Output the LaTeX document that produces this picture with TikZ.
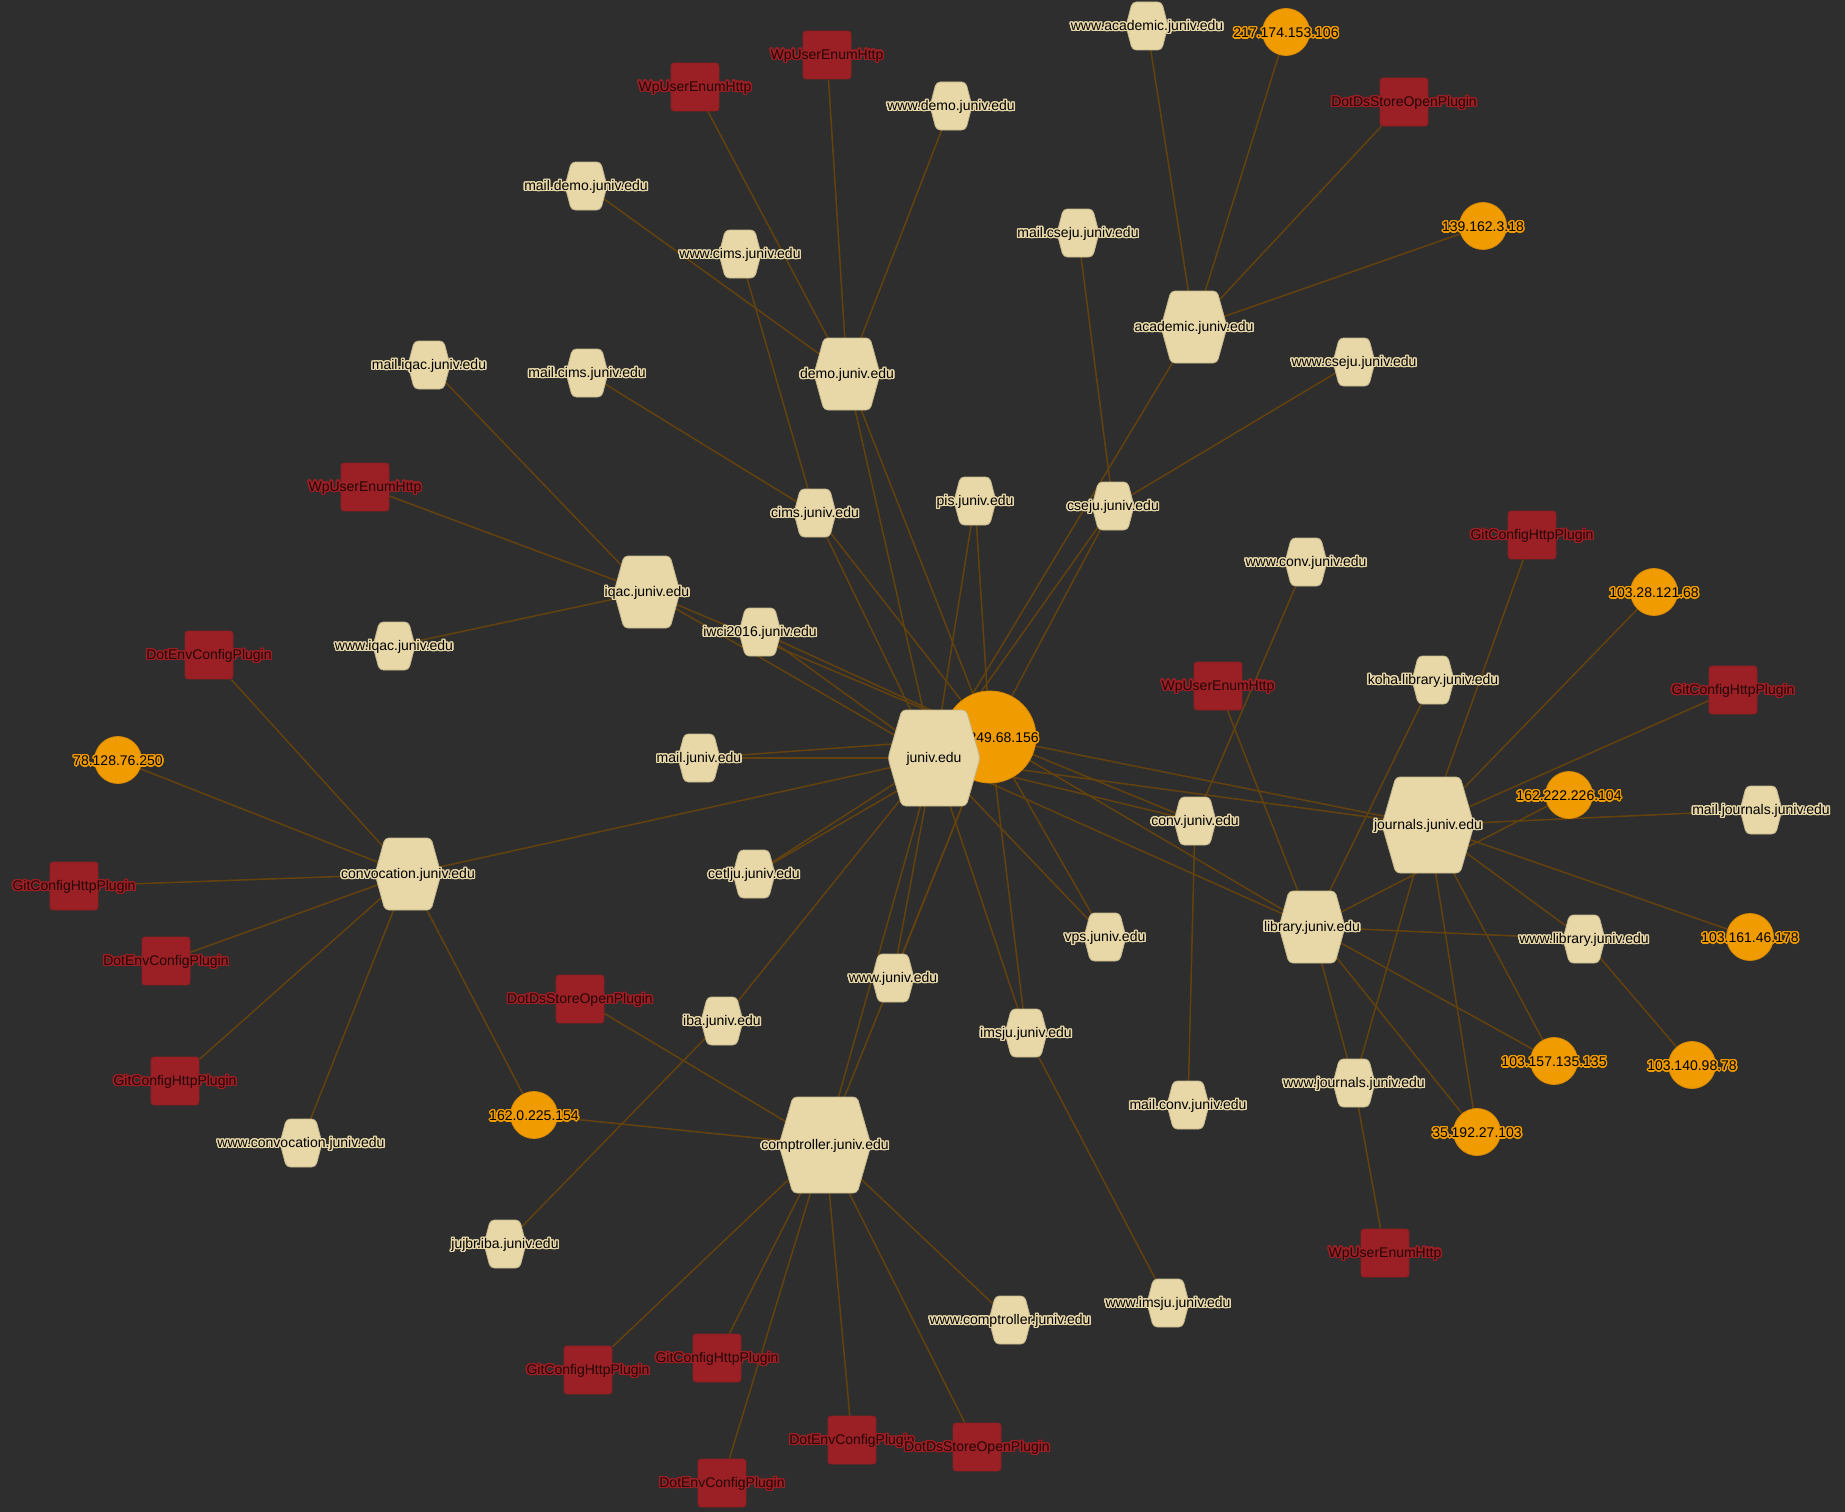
\documentclass[tikz,border=0pt]{standalone}
\usepackage{fontspec}
\setmainfont{Liberation Sans}
\usepackage{contour}
\contourlength{1.4pt}
\contournumber{24}
\usetikzlibrary{calc}
\pgfdeclarelayer{bglayer}
\pgfdeclarelayer{edgelayer}
\pgfsetlayers{bglayer,edgelayer,main}
\definecolor{bgdark}{RGB}{46,46,46}
\definecolor{hexfill}{RGB}{232,216,168}
\definecolor{hexline}{RGB}{196,182,140}
\definecolor{ipfill}{RGB}{240,156,0}
\definecolor{ipline}{RGB}{214,138,6}
\definecolor{plugfill}{RGB}{155,32,37}
\definecolor{plugline}{RGB}{140,30,34}
\definecolor{plugtext}{RGB}{38,6,6}
\definecolor{edgecol}{RGB}{100,66,14}
\tikzset{
  hexshape/.style={fill=hexfill,draw=hexline,line width=0.8pt,rounded corners=4pt},
  ipshape/.style={circle,fill=ipfill,draw=ipline,line width=0.8pt,inner sep=0pt},
  plugshape/.style={rectangle,fill=plugfill,draw=plugline,line width=0.8pt,rounded corners=3pt,inner sep=0pt,minimum size=48pt},
  hostlabel/.style={inner sep=0pt,yshift=-1.5pt,text=black,font=\fontsize{14}{16}\selectfont},
  iplabel/.style={inner sep=0pt,yshift=-1.5pt,text=black,font=\fontsize{14}{16}\selectfont},
  pluglabel/.style={inner sep=0pt,yshift=-1.5pt,text=plugtext,font=\fontsize{14}{16}\selectfont},
  link/.style={draw=edgecol,line width=1.5pt}
}
\newcommand{\hexnode}[5]{%
  \coordinate (#1) at (#2);
  \path[hexshape] ($(#1)+(-#3,0)$) -- ($(#1)+(-0.7*#3,-#4)$) -- ($(#1)+(0.7*#3,-#4)$)
    -- ($(#1)+(#3,0)$) -- ($(#1)+(0.7*#3,#4)$) -- ($(#1)+(-0.7*#3,#4)$) -- cycle;
  \node[hostlabel] (#1t) at (#1) {\contour{hexfill}{#5}};}
\newcommand{\ipnode}[4]{%
  \node[ipshape,minimum size=#3] (#1) at (#2) {};
  \node[iplabel] (#1t) at (#1) {\contour{ipfill}{#4}};}
\newcommand{\plugnode}[3]{%
  \node[plugshape] (#1) at (#2) {};
  \node[pluglabel] (#1t) at (#1) {\contour{plugfill}{#3}};}
\begin{document}
\begin{tikzpicture}[x=1pt,y=-1pt]
\useasboundingbox (0,0) rectangle (1845,1512);
\begin{pgfonlayer}{bglayer}
\fill[bgdark] (0,0) rectangle (1845,1512);
\end{pgfonlayer}

\ipnode{ipbig}{990,737}{92pt}{103.249.68.156}
\ipnode{ipacada}{1286,32}{47pt}{217.174.153.106}
\ipnode{ipacadb}{1483,226}{47pt}{139.162.3.18}
\ipnode{ipjoura}{1654,592}{47pt}{103.28.121.68}
\ipnode{iplib}{1569,795}{47pt}{162.222.226.104}
\ipnode{ipconv}{118,760}{47pt}{78.128.76.250}
\ipnode{ipjourb}{1750,937}{47pt}{103.161.46.178}
\ipnode{ipjourc}{1554,1061}{47pt}{103.157.135.135}
\ipnode{ipwlib}{1692,1065}{47pt}{103.140.98.78}
\ipnode{ipjourd}{1477,1132}{47pt}{35.192.27.103}
\ipnode{ipcomp}{534,1115}{47pt}{162.0.225.154}

\plugnode{wpdemoa}{827,55}{WpUserEnumHttp}
\plugnode{wpdemob}{695,87}{WpUserEnumHttp}
\plugnode{dsacad}{1404,102}{DotDsStoreOpenPlugin}
\plugnode{wpiqac}{365,487}{WpUserEnumHttp}
\plugnode{gitjoura}{1532,535}{GitConfigHttpPlugin}
\plugnode{envconva}{209,655}{DotEnvConfigPlugin}
\plugnode{wplib}{1218,686}{WpUserEnumHttp}
\plugnode{gitjourb}{1733,690}{GitConfigHttpPlugin}
\plugnode{gitconva}{74,886}{GitConfigHttpPlugin}
\plugnode{envconvb}{166,961}{DotEnvConfigPlugin}
\plugnode{dscompa}{580,999}{DotDsStoreOpenPlugin}
\plugnode{gitconvb}{175,1081}{GitConfigHttpPlugin}
\plugnode{wpjour}{1385,1253}{WpUserEnumHttp}
\plugnode{gitcompa}{588,1370}{GitConfigHttpPlugin}
\plugnode{gitcompb}{717,1358}{GitConfigHttpPlugin}
\plugnode{envcompa}{852,1440}{DotEnvConfigPlugin}
\plugnode{dscompb}{977,1447}{DotDsStoreOpenPlugin}
\plugnode{envcompb}{722,1483}{DotEnvConfigPlugin}

\hexnode{wwwacad}{1147,26}{21}{24}{www.academic.juniv.edu}
\hexnode{wwwdemo}{951,106}{21}{24}{www.demo.juniv.edu}
\hexnode{maildemo}{586,186}{21}{24}{mail.demo.juniv.edu}
\hexnode{wwwcims}{740,254}{21}{24}{www.cims.juniv.edu}
\hexnode{mailcseju}{1078,233}{21}{24}{mail.cseju.juniv.edu}
\hexnode{acad}{1194,327}{33}{36}{academic.juniv.edu}
\hexnode{wwwcseju}{1354,362}{21}{24}{www.cseju.juniv.edu}
\hexnode{mailiqac}{429,365}{21}{24}{mail.iqac.juniv.edu}
\hexnode{mailcims}{587,373}{21}{24}{mail.cims.juniv.edu}
\hexnode{demo}{847,374}{33}{36}{demo.juniv.edu}
\hexnode{pis}{975,501}{21}{24}{pis.juniv.edu}
\hexnode{cseju}{1113,506}{21}{24}{cseju.juniv.edu}
\hexnode{cims}{815,513}{21}{24}{cims.juniv.edu}
\hexnode{wwwconv}{1306,562}{21}{24}{www.conv.juniv.edu}
\hexnode{iqac}{647,592}{33}{36}{iqac.juniv.edu}
\hexnode{iwci}{760,632}{21}{24}{iwci2016.juniv.edu}
\hexnode{wwwiqac}{394,646}{21}{24}{www.iqac.juniv.edu}
\hexnode{koha}{1433,680}{21}{24}{koha.library.juniv.edu}
\hexnode{mailjuniv}{699,758}{21}{24}{mail.juniv.edu}
\hexnode{juniv}{934,758}{46}{48}{juniv.edu}
\hexnode{mailjour}{1761,810}{21}{24}{mail.journals.juniv.edu}
\hexnode{conv}{1195,821}{21}{24}{conv.juniv.edu}
\hexnode{jour}{1428,825}{46}{48}{journals.juniv.edu}
\hexnode{convoc}{408,874}{33}{36}{convocation.juniv.edu}
\hexnode{cetlju}{754,874}{21}{24}{cetlju.juniv.edu}
\hexnode{lib}{1312,927}{33}{36}{library.juniv.edu}
\hexnode{vps}{1105,937}{21}{24}{vps.juniv.edu}
\hexnode{wwwlib}{1584,939}{21}{24}{www.library.juniv.edu}
\hexnode{wwwjuniv}{893,978}{21}{24}{www.juniv.edu}
\hexnode{iba}{722,1021}{21}{24}{iba.juniv.edu}
\hexnode{imsju}{1026,1033}{21}{24}{imsju.juniv.edu}
\hexnode{wwwjour}{1354,1083}{21}{24}{www.journals.juniv.edu}
\hexnode{mailconv}{1188,1105}{21}{24}{mail.conv.juniv.edu}
\hexnode{comp}{825,1145}{46}{48}{comptroller.juniv.edu}
\hexnode{wwwconvoc}{301,1143}{21}{24}{www.convocation.juniv.edu}
\hexnode{jujbr}{505,1244}{21}{24}{jujbr.iba.juniv.edu}
\hexnode{wwwcomp}{1010,1320}{21}{24}{www.comptroller.juniv.edu}
\hexnode{wwwimsju}{1168,1303}{21}{24}{www.imsju.juniv.edu}

\begin{pgfonlayer}{edgelayer}
\path[link]
(juniv) edge (ipbig)
(juniv) edge (demo) (juniv) edge (cims) (juniv) edge (pis)
(juniv) edge (cseju) (juniv) edge (acad) (juniv) edge (iqac)
(juniv) edge (iwci) (juniv) edge (mailjuniv) (juniv) edge (cetlju)
(juniv) edge (iba) (juniv) edge (wwwjuniv) (juniv) edge (imsju)
(juniv) edge (vps) (juniv) edge (conv) (juniv) edge (jour)
(juniv) edge (lib) (juniv) edge (convoc) (juniv) edge (comp)
(ipbig) edge (demo) (ipbig) edge (cims) (ipbig) edge (pis)
(ipbig) edge (cseju) (ipbig) edge (iqac) (ipbig) edge (iwci)
(ipbig) edge (mailjuniv) (ipbig) edge (cetlju) (ipbig) edge (wwwjuniv)
(ipbig) edge (imsju) (ipbig) edge (vps) (ipbig) edge (conv)
(ipbig) edge (jour) (ipbig) edge (lib) (ipbig) edge (comp)
(demo) edge (wwwdemo) (demo) edge (maildemo)
(demo) edge (wpdemoa) (demo) edge (wpdemob)
(cims) edge (wwwcims) (cims) edge (mailcims)
(acad) edge (wwwacad) (acad) edge (ipacada)
(acad) edge (dsacad) (acad) edge (ipacadb)
(cseju) edge (mailcseju) (cseju) edge (wwwcseju)
(iqac) edge (mailiqac) (iqac) edge (wpiqac) (iqac) edge (wwwiqac)
(conv) edge (wwwconv) (conv) edge (mailconv)
(lib) edge (wplib) (lib) edge (koha) (lib) edge (wwwlib)
(lib) edge (wwwjour) (lib) edge (iplib) (lib) edge (ipjourd)
(lib) edge (ipjourc)
(jour) edge (gitjoura) (jour) edge (ipjoura) (jour) edge (gitjourb)
(jour) edge (mailjour) (jour) edge (ipjourb) (jour) edge (ipjourc)
(jour) edge (ipjourd) (jour) edge (wwwjour) (jour) edge (wwwlib)
(wwwjour) edge (wpjour)
(wwwlib) edge (ipwlib)
(convoc) edge (ipconv) (convoc) edge (envconva) (convoc) edge (gitconva)
(convoc) edge (envconvb) (convoc) edge (gitconvb) (convoc) edge (wwwconvoc)
(convoc) edge (ipcomp)
(comp) edge (ipcomp) (comp) edge (dscompa) (comp) edge (wwwcomp)
(comp) edge (gitcompa) (comp) edge (gitcompb) (comp) edge (envcompa)
(comp) edge (dscompb) (comp) edge (envcompb)
(iba) edge (jujbr)
(imsju) edge (wwwimsju);
\end{pgfonlayer}
\end{tikzpicture}
\end{document}
